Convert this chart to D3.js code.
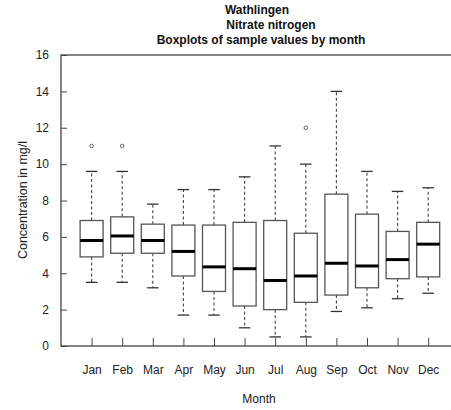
<!DOCTYPE html>
<html lang="en">
  <head>
    <meta charset="utf-8">
    <title>Wathlingen nitrate boxplots</title>
    <style>
      body { margin: 0; background: #fff; }
      svg { display: block; font-family: Arial, "Liberation Sans", sans-serif; }
      .axis path { stroke: #444; }
      .axis line { stroke: #444; }
      .axis text { fill: #222; font-size: 12px; }
    </style>
  </head>
  <body>
    <script src="https://d3js.org/d3.v7.min.js"></script>
    <script>
      // box statistics per month
      const months = ["Jan", "Feb", "Mar", "Apr", "May", "Jun", "Jul", "Aug", "Sep", "Oct", "Nov", "Dec"];
      const whiskerLow = [3.5, 3.5, 3.2, 1.7, 1.7, 1.0, 0.5, 0.5, 1.9, 2.1, 2.6, 2.9];
      const q1 = [4.9, 5.1, 5.1, 3.85, 3.0, 2.2, 2.0, 2.4, 2.8, 3.2, 3.7, 3.8];
      const median = [5.8, 6.05, 5.8, 5.2, 4.35, 4.25, 3.6, 3.85, 4.55, 4.4, 4.75, 5.6];
      const q3 = [6.9, 7.1, 6.7, 6.65, 6.65, 6.8, 6.9, 6.2, 8.35, 7.25, 6.3, 6.8];
      const whiskerHigh = [9.6, 9.6, 7.8, 8.6, 8.6, 9.3, 11.0, 10.0, 14.0, 9.6, 8.5, 8.7];
      const outliers = [["Jan", 11], ["Feb", 11], ["Aug", 12]];
      const yTicks = [0, 2, 4, 6, 8, 10, 12, 14, 16];

      const w = 451, h = 410;
      const padLeft = 61, padTop = 55, padBottom = 346;

      const svg = d3.select("body").append("svg")
        .attr("width", w)
        .attr("height", h);

      // positions 1..12 inside a 0..13 frame, right edge falls outside the window
      const x = d3.scaleLinear().domain([0, 13]).range([padLeft, padLeft + 13 * 30.6]);
      const y = d3.scaleLinear().domain([0, 16]).range([padBottom, padTop]);
      const pos = m => x(months.indexOf(m) + 1);

      const boxW = 23;
      const capW = 11.5;

      const data = months.map((m, i) => ({
        m: m, lo: whiskerLow[i], q1: q1[i], med: median[i], q3: q3[i], hi: whiskerHigh[i]
      }));

      const g = svg.append("g");

      // whiskers
      g.selectAll(".wh-up").data(data).join("line")
        .attr("x1", d => pos(d.m)).attr("x2", d => pos(d.m))
        .attr("y1", d => y(d.q3)).attr("y2", d => y(d.hi))
        .attr("stroke", "#444").attr("stroke-width", 1.1).attr("stroke-dasharray", "3,2.5");
      g.selectAll(".wh-down").data(data).join("line")
        .attr("x1", d => pos(d.m)).attr("x2", d => pos(d.m))
        .attr("y1", d => y(d.q1)).attr("y2", d => y(d.lo))
        .attr("stroke", "#444").attr("stroke-width", 1.1).attr("stroke-dasharray", "3,2.5");

      // staples
      ["hi", "lo"].forEach(k => {
        g.selectAll(".cap-" + k).data(data).join("line")
          .attr("class", "cap-" + k)
          .attr("x1", d => pos(d.m) - capW / 2).attr("x2", d => pos(d.m) + capW / 2)
          .attr("y1", d => y(d[k])).attr("y2", d => y(d[k]))
          .attr("stroke", "#333").attr("stroke-width", 1.3);
      });

      // boxes
      g.selectAll(".box").data(data).join("rect")
        .attr("x", d => pos(d.m) - boxW / 2)
        .attr("width", boxW)
        .attr("y", d => y(d.q3))
        .attr("height", d => y(d.q1) - y(d.q3))
        .attr("fill", "#fff")
        .attr("stroke", "#555")
        .attr("stroke-width", 1.3);

      // medians
      g.selectAll(".med").data(data).join("line")
        .attr("x1", d => pos(d.m) - boxW / 2).attr("x2", d => pos(d.m) + boxW / 2)
        .attr("y1", d => y(d.med)).attr("y2", d => y(d.med))
        .attr("stroke", "#000").attr("stroke-width", 3);

      // outliers
      g.selectAll(".out").data(outliers).join("circle")
        .attr("cx", d => pos(d[0]))
        .attr("cy", d => y(d[1]))
        .attr("r", 1.8)
        .attr("fill", "none")
        .attr("stroke", "#666")
        .attr("stroke-width", 1);

      // axes (ticks point inward)
      const yAxis = d3.axisLeft(y).tickValues(yTicks).tickSize(-6).tickPadding(12);
      svg.append("g").attr("class", "axis")
        .attr("transform", `translate(${padLeft},0)`)
        .call(yAxis)
        .call(a => a.select(".domain").remove());

      const xAxis = d3.axisBottom(x).tickValues(d3.range(1, 13))
        .tickFormat(i => months[i - 1]).tickSize(-8).tickPadding(19);
      svg.append("g").attr("class", "axis")
        .attr("transform", `translate(0,${padBottom})`)
        .call(xAxis)
        .call(a => a.select(".domain").remove());

      // plot frame
      svg.append("rect")
        .attr("x", x(0)).attr("y", y(16))
        .attr("width", x(13) - x(0)).attr("height", y(0) - y(16))
        .attr("fill", "none").attr("stroke", "#444").attr("stroke-width", 1.3);

      // titles
      const titles = [["Wathlingen", 257, 14], ["Nitrate nitrogen", 271, 29], ["Boxplots of sample values by month", 261, 44]];
      svg.selectAll(".title").data(titles).join("text")
        .attr("x", d => d[1]).attr("y", d => d[2])
        .attr("text-anchor", "middle")
        .attr("font-weight", "bold")
        .attr("font-size", "12px")
        .attr("fill", "#111")
        .text(d => d[0]);

      svg.append("text")
        .attr("x", 259).attr("y", 403)
        .attr("text-anchor", "middle")
        .attr("font-size", "12px")
        .attr("fill", "#222")
        .text("Month");

      svg.append("text")
        .attr("transform", "translate(27,200) rotate(-90)")
        .attr("text-anchor", "middle")
        .attr("font-size", "12.5px")
        .attr("fill", "#222")
        .text("Concentration in mg/l");
    </script>
  </body>
</html>
